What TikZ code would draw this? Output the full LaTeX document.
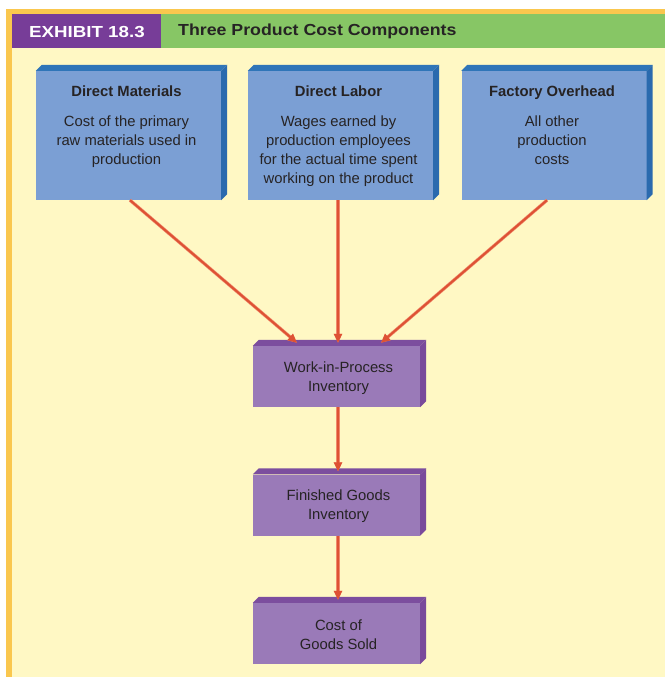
\documentclass[tikz,border=0pt]{standalone}
\usepackage{fontspec}
\setmainfont{Liberation Sans}
\newfontfamily\exhibitfont{Liberation Sans}[FakeStretch=1.17]
\newfontfamily\titlefont{Liberation Sans}[FakeStretch=1.11]
\usetikzlibrary{arrows.meta,calc}

\definecolor{pagebg}{HTML}{FFF8C4}
\definecolor{frameorange}{HTML}{FAC74E}
\definecolor{hdrpurple}{HTML}{773D98}
\definecolor{hdrgreen}{HTML}{87C665}
\definecolor{inkdark}{HTML}{262324}
\definecolor{bluefront}{HTML}{7B9FD4}
\definecolor{bluetop}{HTML}{2F75B8}
\definecolor{blueside}{HTML}{2A6AAE}
\definecolor{purpfront}{HTML}{9A7AB8}
\definecolor{purptop}{HTML}{7C4E9E}
\definecolor{purpside}{HTML}{7A4A9B}
\definecolor{arrowcore}{HTML}{DE5234}
\definecolor{arrowhalo}{HTML}{F08A6C}

\newcommand{\boxfont}{\fontsize{14.8}{19}\selectfont}

\tikzset{
  face/.style={draw=none, rectangle, inner sep=0pt},
  bluebox/.style={face, fill=bluefront, minimum width=185pt, minimum height=129pt},
  purpbox/.style={face, fill=purpfront, minimum width=167pt, minimum height=61pt,
    text=inkdark, align=center, font=\boxfont},
  boxtext/.style={anchor=north, inner sep=0pt, text=inkdark, align=center, font=\boxfont},
  hdrtext/.style={anchor=west, inner sep=0pt},
  flow/.style={draw=arrowcore, line width=2pt,
    preaction={draw=arrowhalo, line width=3.2pt},
    -{Triangle[length=9pt,width=8pt,fill=arrowcore]}},
}

% top and right faces giving each box its depth
\newcommand{\depthfaces}[3]{%
  \fill[#2] (#1.north west) -- ++(6,-6) -- ($(#1.north east)+(6,-6)$) -- (#1.north east) -- cycle;
  \fill[#3] (#1.north east) -- ++(6,-6) -- ($(#1.south east)+(6,-6)$) -- (#1.south east) -- cycle;
}

\begin{document}
\begin{tikzpicture}[x=1pt,y=-1pt]
\useasboundingbox (0,0) rectangle (665,677);

% page frame and header band
\fill[white] (0,0) rectangle (665,677);
\fill[frameorange] (6,9) rectangle (665,14);
\fill[frameorange] (6,9) rectangle (12,677);
\fill[pagebg] (12,48) rectangle (665,677);
\fill[hdrpurple] (12,14) rectangle (161,48);
\fill[hdrgreen] (161,14) rectangle (665,48);
\node[hdrtext, text=white, font=\exhibitfont\fontsize{16}{18}\selectfont\bfseries]
  (exhibit) at (29,31.7) {EXHIBIT 18.3};
\node[hdrtext, text=inkdark, font=\titlefont\fontsize{16}{18}\selectfont\bfseries]
  (title) at (178,31.7) {Three Product Cost Components};

% the three cost components
\node[bluebox] (dm) at (128.5,135.5) {};
\node[bluebox] (dl) at (340.5,135.5) {};
\node[bluebox] (fo) at (554,135.5) {};
\depthfaces{dm}{bluetop}{blueside}
\depthfaces{dl}{bluetop}{blueside}
\depthfaces{fo}{bluetop}{blueside}

\node[boxtext] (dmt) at ($(dm.north)+(-2,12)$)
  {\strut\textbf{Direct Materials}\\[11pt]Cost of the primary\\raw materials used in\\production};
\node[boxtext] (dlt) at ($(dl.north)+(-2,12)$)
  {\strut\textbf{Direct Labor}\\[11pt]Wages earned by\\production employees\\for the actual time spent\\working on the product};
\node[boxtext] (fot) at ($(fo.north)+(-2,12)$)
  {\strut\textbf{Factory Overhead}\\[11pt]All other\\production\\costs};

% inventory flow
\node[purpbox] (wip) at (336.5,376.5) {};
\node[purpbox] (fg) at (336.5,505) {};
\node[purpbox] (cgs) at (336.5,633.5) {};
\depthfaces{wip}{purptop}{purpside}
\depthfaces{fg}{purptop}{purpside}
\depthfaces{cgs}{purptop}{purpside}
\node[purpbox, fill=none] (wipt) at ($(wip.center)+(2,1.5)$) {Work-in-Process\\Inventory};
\node[purpbox, fill=none] (fgt) at ($(fg.center)+(2,1.5)$) {Finished Goods\\Inventory};
\node[purpbox, fill=none] (cgst) at ($(cgs.center)+(2,1.5)$) {Cost of\\Goods Sold};

% connectors
\draw[flow] ($(dm.south)+(1.5,0)$) -- ($(wip.north)+(-39.5,-3)$);
\draw[flow] ($(dl.south)+(-2.5,0)$) -- ($(wip.north)+(1.5,-3)$);
\draw[flow] ($(fo.south)+(-7,0)$) -- ($(wip.north)+(44.5,-3)$);
\draw[flow] ($(wip.south)+(1.5,0)$) -- ($(fg.north)+(1.5,-3)$);
\draw[flow] ($(fg.south)+(1.5,0)$) -- ($(cgs.north)+(1.5,-3)$);
\end{tikzpicture}
\end{document}
